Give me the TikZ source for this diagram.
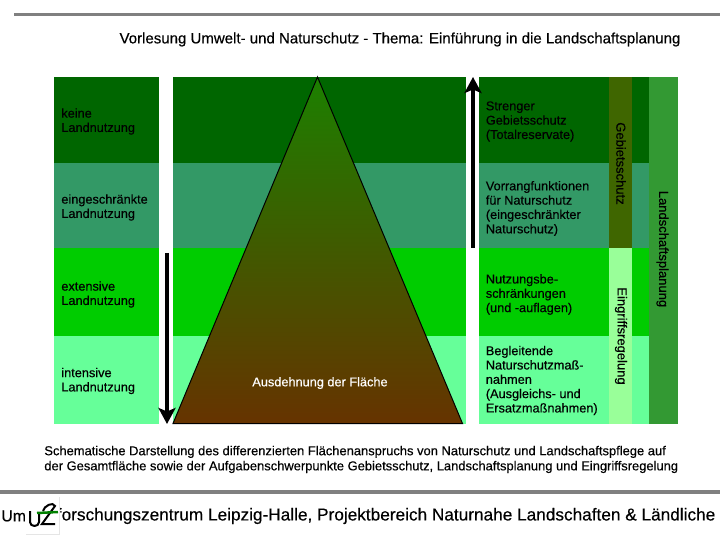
\documentclass[tikz,border=0pt]{standalone}
\usepackage{fontspec}
\setmainfont{Liberation Sans}[FakeBold=0.35]
\usetikzlibrary{arrows.meta}
\definecolor{bandA}{HTML}{006600}
\definecolor{bandB}{HTML}{339966}
\definecolor{bandC}{HTML}{00CC00}
\definecolor{bandD}{HTML}{66FF99}
\definecolor{colPlan}{HTML}{339933}
\definecolor{colSchutz}{HTML}{3F6600}
\definecolor{colRegel}{HTML}{99FF99}
\definecolor{barGray}{HTML}{808080}
\definecolor{peakTop}{HTML}{1C8000}
\definecolor{peakBase}{HTML}{663300}
\tikzset{
  lab/.style={anchor=west, align=left, inner sep=0pt, font=\fontsize{7.25}{8.15}\selectfont, text=black},
  vlab/.style={rotate=-90, inner sep=0pt, font=\fontsize{7.4}{8.15}\selectfont, text=black},
  barline/.style={barGray, line width=0.07cm},
  bigarrow/.style={line width=0.09cm, -{Stealth[length=0.32cm, width=0.34cm, inset=0.07cm]}}
}
\begin{document}
\begin{tikzpicture}[x=0.02cm, y=-0.02cm]
  \useasboundingbox (0,0) rectangle (720,540);
  % bands
  \fill[bandA] (54,77) rectangle (159,163);
  \fill[bandB] (54,163) rectangle (159,248.5);
  \fill[bandC] (54,248.5) rectangle (159,336);
  \fill[bandD] (54,336) rectangle (159,424);
  \fill[bandA] (173,77) rectangle (466,163);
  \fill[bandB] (173,163) rectangle (466,248.5);
  \fill[bandC] (173,248.5) rectangle (466,336);
  \fill[bandD] (173,336) rectangle (466,424);
  \fill[bandA] (479,77) rectangle (650,163);
  \fill[bandB] (479,163) rectangle (650,248.5);
  \fill[bandC] (479,248.5) rectangle (650,336);
  \fill[bandD] (479,336) rectangle (650,424);
  \fill[colSchutz] (609,77) rectangle (632,248.5);
  \fill[colRegel] (609,248.5) rectangle (632,424);
  \fill[colPlan] (649,77) rectangle (678,424);
  % triangle
  \coordinate (apex) at (317.5,77);
  \coordinate (baseL) at (173,423.5);
  \coordinate (baseR) at (462.5,423.5);
  \shade[top color=peakTop, bottom color=peakBase, draw=black, line width=0.02cm]
    (apex) -- (baseL) -- (baseR) -- cycle;
  % arrows
  \coordinate (upS) at (473,248);
  \coordinate (upE) at (473,77);
  \coordinate (downS) at (167,253);
  \coordinate (downE) at (167,424);
  \draw[bigarrow] (upS) -- (upE);
  \draw[bigarrow] (downS) -- (downE);
  % rules
  \coordinate (topL) at (14,14.5);
  \coordinate (topR) at (720,14.5);
  \coordinate (botL) at (0,492);
  \coordinate (botR) at (720,492);
  \draw[barline] (topL) -- (topR);
  \draw[barline] (botL) -- (botR);
  % title
  \node[inner sep=0pt, font=\fontsize{8.55}{9}\selectfont] (title) at (400,39.5) {Vorlesung Umwelt- und Naturschutz - Thema: Einführung in die Landschaftsplanung};
  % labels left
  \node[lab] (keine) at (61,121.5) {keine\\Landnutzung};
  \node[lab] (einge) at (61,207.5) {eingeschränkte\\Landnutzung};
  \node[lab] (exten) at (61,294.5) {extensive\\Landnutzung};
  \node[lab] (inten) at (61,381) {intensive\\Landnutzung};
  % labels right
  \node[lab] (streng) at (485.5,121.5) {Strenger\\Gebietsschutz\\(Totalreservate)};
  \node[lab] (vorrang) at (485.5,208.5) {Vorrangfunktionen\\für Naturschutz\\(eingeschränkter\\Naturschutz)};
  \node[lab] (nutz) at (485.5,294.5) {Nutzungsbe-\\schränkungen\\(und -auflagen)};
  \node[lab] (begl) at (485.5,380.5) {Begleitende\\Naturschutzmaß-\\nahmen\\(Ausgleichs- und\\Ersatzmaßnahmen)};
  \node[vlab] (gebiet) at (621,163.5) {Gebietsschutz};
  \node[vlab] (eingriff) at (621,336) {Eingriffsregelung};
  \node[vlab] (plan) at (662.5,249) {Landschaftsplanung};
  \node[lab, anchor=center, text=white] (ausd) at (320,383) {Ausdehnung der Fläche};
  % caption
  \node[lab, anchor=north west, font=\fontsize{7.36}{8.6}\selectfont] (capt) at (44,445.5) {Schematische Darstellung des differenzierten Flächenanspruchs von Naturschutz und Landschaftspflege auf\\der Gesamtfläche sowie der Aufgabenschwerpunkte Gebietsschutz, Landschaftsplanung und Eingriffsregelung};
  % footer
  \node[lab, font=\fontsize{9}{11}\selectfont] (foot1) at (1,516) {Um};
  \node[lab, font=\fontsize{9.8}{11}\selectfont] (foot2) at (56.5,516) {forschungszentrum Leipzig-Halle, Projektbereich Naturnahe Landschaften \& Ländliche};
  % logo
  \fill[white] (25.5,497) rectangle (59,534);
  \draw[black!10, line width=0.01cm] (59,497) -- (59,534) -- (25.5,534);
  \draw[line width=0.04cm] (30,511) -- (30,522) to[out=-90, in=-90, looseness=1.5] (39,522) -- (39,513);
  \draw[line width=0.04cm] (43,511) to[out=80, in=110] (55,506) -- (42,524) -- (55,524);
  \draw[green!50!black, line width=0.05cm] (37,513) -- (58,512);
\end{tikzpicture}
\end{document}
